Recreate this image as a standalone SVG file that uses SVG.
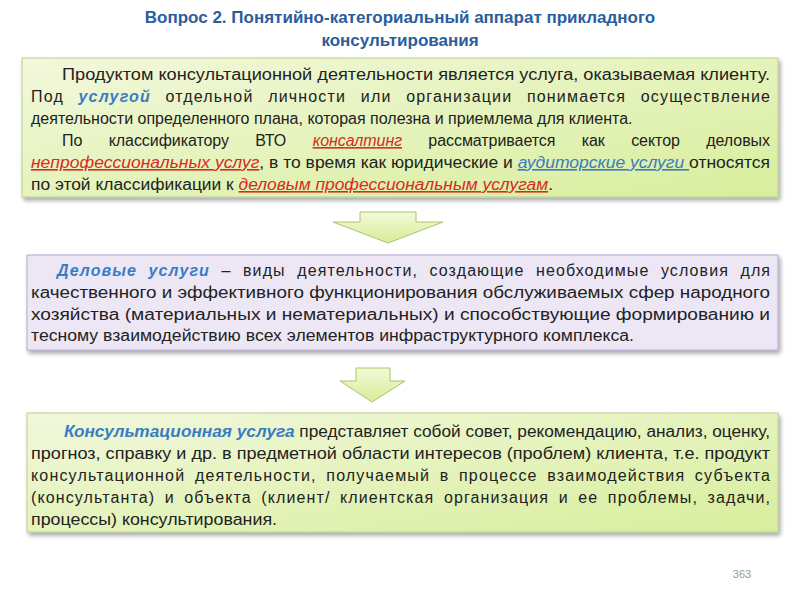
<svg xmlns="http://www.w3.org/2000/svg" width="800" height="600" viewBox="0 0 800 600">
<style>
.t{font-family:"Liberation Sans",Arial,sans-serif;font-size:16px;fill:#222}
.title{font-family:"Liberation Sans",sans-serif;font-size:17px;font-weight:bold;fill:#2a5d9c;text-anchor:middle}
.b{fill:#3a7cc4;font-style:italic;font-weight:bold}
.r{fill:#d82b1e;font-style:italic;text-decoration:underline}
.u{fill:#3a7cc4;font-style:italic;text-decoration:underline}
</style>
<defs>
<linearGradient id="g" x1="0" y1="0" x2="1" y2="1"><stop offset="0" stop-color="#f2f8dc"/><stop offset="1" stop-color="#d8ee9c"/></linearGradient>
<linearGradient id="ga" x1="0" y1="0" x2="0" y2="1"><stop offset="0" stop-color="#f4fad8"/><stop offset="1" stop-color="#d6ec98"/></linearGradient>
<filter id="s" x="-5%" y="-5%" width="110%" height="120%"><feDropShadow dx="2" dy="3" stdDeviation="2" flood-opacity="0.35"/></filter>
</defs>
<text class="title" x="400" y="23">Вопрос 2. Понятийно-категориальный аппарат прикладного</text>
<text class="title" x="400" y="46">консультирования</text>
<g id="box1">
<rect x="22" y="58" width="756" height="139" fill="url(#g)" stroke="#b9cf8a" filter="url(#s)"/>
<text class="t" x="62" y="80" textLength="708" lengthAdjust="spacingAndGlyphs">Продуктом консультационной деятельности является услуга, оказываемая клиенту.</text>
<text class="t" x="31" y="102" word-spacing="9" textLength="739" lengthAdjust="spacing">Под <tspan class="b">услугой</tspan> отдельной личности или организации понимается осуществление</text>
<text class="t" x="31" y="124" font-size="15.5">деятельности определенного плана, которая полезна и приемлема для клиента.</text>
<text class="t" x="62" y="146" word-spacing="22" textLength="708" lengthAdjust="spacing">По классификатору ВТО <tspan class="r">консалтинг</tspan> рассматривается как сектор деловых</text>
<text class="t" x="31" y="168" textLength="739" lengthAdjust="spacingAndGlyphs"><tspan class="r">непрофессиональных услуг</tspan>, в то время как юридические и <tspan class="u">аудиторские услуги </tspan>относятся</text>
<text class="t" x="31" y="190" textLength="522" lengthAdjust="spacingAndGlyphs">по этой классификации к <tspan class="r">деловым профессиональным услугам</tspan>.</text>
</g>
<g id="connectors">
<path d="M360 212 H416 V222 H443 L388 243 L333 222 H360 Z" fill="url(#ga)" stroke="#a9c46c"/>
<path d="M356 368 H390 V381 H405 L372 402 L340 381 H356 Z" fill="url(#ga)" stroke="#a9c46c"/>
</g>
<g id="box2">
<rect x="27" y="255" width="751" height="95" fill="#ede7f5" stroke="#b6a6d2" filter="url(#s)"/>
<text class="t" x="57" y="276" word-spacing="6" textLength="713" lengthAdjust="spacing"><tspan class="b">Деловые услуги</tspan> – виды деятельности, создающие необходимые условия для</text>
<text class="t" x="31" y="298" textLength="739" lengthAdjust="spacingAndGlyphs">качественного и эффективного функционирования обслуживаемых сфер народного</text>
<text class="t" x="31" y="320" textLength="739" lengthAdjust="spacingAndGlyphs">хозяйства (материальных и нематериальных) и способствующие формированию и</text>
<text class="t" x="31" y="341" textLength="603" lengthAdjust="spacingAndGlyphs">тесному взаимодействию всех элементов инфраструктурного комплекса.</text>
</g>
<g id="box3">
<rect x="27" y="413" width="751" height="119" fill="url(#g)" stroke="#b9cf8a" filter="url(#s)"/>
<text class="t" x="64" y="437" textLength="706" lengthAdjust="spacingAndGlyphs"><tspan class="b">Консультационная услуга</tspan> представляет собой совет, рекомендацию, анализ, оценку,</text>
<text class="t" x="31" y="459" textLength="739" lengthAdjust="spacingAndGlyphs">прогноз, справку и др. в предметной области интересов (проблем) клиента, т.е. продукт</text>
<text class="t" x="31" y="481" word-spacing="4" textLength="739" lengthAdjust="spacing">консультационной деятельности, получаемый в процессе взаимодействия субъекта</text>
<text class="t" x="31" y="503" word-spacing="4" textLength="739" lengthAdjust="spacing">(консультанта) и объекта (клиент/ клиентская организация и ее проблемы, задачи,</text>
<text class="t" x="31" y="525" textLength="246" lengthAdjust="spacingAndGlyphs">процессы) консультирования.</text>
</g>
<text x="742" y="578" font-family="Liberation Sans,sans-serif" font-size="11" fill="#999" text-anchor="middle">363</text>
</svg>
